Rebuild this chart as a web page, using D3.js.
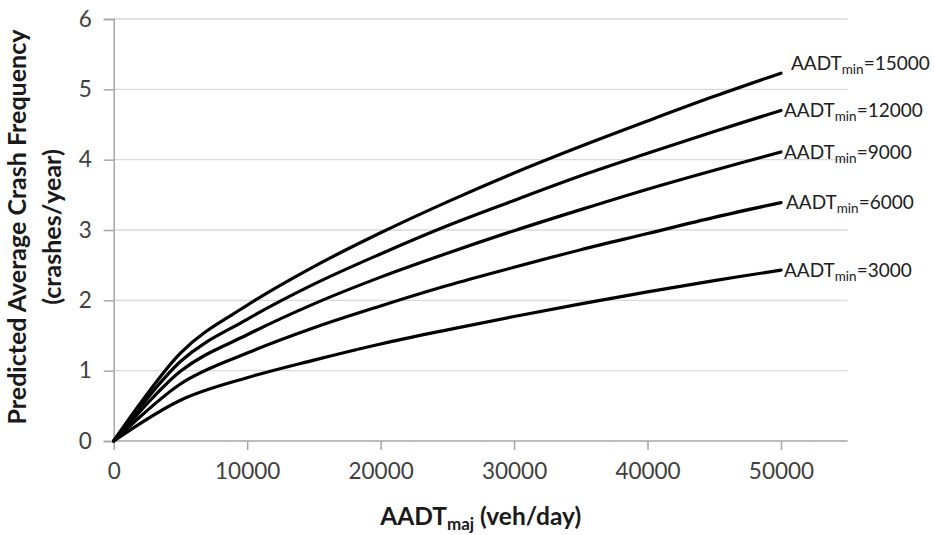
<!DOCTYPE html>
<html>
<head>
<meta charset="utf-8">
<script src="https://cdn.jsdelivr.net/npm/d3@7"></script>
<style>
  html, body { margin: 0; padding: 0; background: #ffffff; }
  svg { display: block; }
</style>
</head>
<body>
<svg id="chart" width="935" height="535"></svg>
<script>
// ---- data ----
const aadtMaj = [0, 5000, 10000, 15000, 20000, 25000, 30000, 35000, 40000, 45000, 50000];
const minorLabels = ["15000", "12000", "9000", "6000", "3000"];
const crashes15000 = [0, 1.25, 1.93, 2.48, 2.96, 3.40, 3.81, 4.19, 4.55, 4.90, 5.23];
const crashes12000 = [0, 1.13, 1.73, 2.23, 2.66, 3.06, 3.42, 3.77, 4.09, 4.40, 4.70];
const crashes9000  = [0, 0.99, 1.51, 1.95, 2.33, 2.67, 2.99, 3.29, 3.58, 3.85, 4.11];
const crashes6000  = [0, 0.81, 1.25, 1.61, 1.92, 2.21, 2.47, 2.72, 2.95, 3.18, 3.39];
const crashes3000  = [0, 0.58, 0.90, 1.15, 1.38, 1.58, 1.77, 1.95, 2.12, 2.28, 2.43];
const xTicks = [0, 10000, 20000, 30000, 40000, 50000];
const yTicks = [0, 1, 2, 3, 4, 5, 6];

const seriesList = [
  { label: minorLabels[0], values: crashes15000 },
  { label: minorLabels[1], values: crashes12000 },
  { label: minorLabels[2], values: crashes9000 },
  { label: minorLabels[3], values: crashes6000 },
  { label: minorLabels[4], values: crashes3000 }
];

// ---- layout ----
const svg = d3.select("#chart");
const plotLeft = 113.7, plotRight = 847.7, plotTop = 19, plotBottom = 441;
const x = d3.scaleLinear().domain([0, 55000]).range([plotLeft, plotRight]);
const y = d3.scaleLinear().domain([0, 6]).range([plotBottom, plotTop]);

const font = "Lato, 'Open Sans', sans-serif";
const gridColor = "#d9d9d9";
const axisColor = "#a6a6a6";
const textColor = "#404040";

// horizontal gridlines
svg.append("g")
  .selectAll("line")
  .data(yTicks.filter(d => d > 0))
  .join("line")
  .attr("x1", plotLeft).attr("x2", plotRight)
  .attr("y1", d => y(d)).attr("y2", d => y(d))
  .attr("stroke", gridColor).attr("stroke-width", 1.3);

// y axis
const yAxis = d3.axisLeft(y).tickValues(yTicks).tickSize(10).tickPadding(12).tickFormat(d3.format("d"));
const gy = svg.append("g").attr("transform", `translate(${plotLeft},0)`).call(yAxis);
gy.select(".domain").attr("stroke", axisColor).attr("stroke-width", 1.5);
gy.selectAll(".tick line").attr("stroke", axisColor).attr("stroke-width", 1.5);
gy.selectAll(".tick text").attr("font-family", font).attr("font-size", 22.5).attr("fill", textColor);

// x axis
const xAxis = d3.axisBottom(x).tickValues(xTicks).tickSize(9).tickPadding(13).tickFormat(d3.format("d"));
const gx = svg.append("g").attr("transform", `translate(0,${plotBottom})`).call(xAxis);
gx.select(".domain").attr("stroke", axisColor).attr("stroke-width", 1.5)
  .attr("d", `M${plotLeft},0H${plotRight}`);
gx.selectAll(".tick line").attr("stroke", axisColor).attr("stroke-width", 1.5);
gx.selectAll(".tick text").attr("font-family", font).attr("font-size", 22.5).attr("fill", textColor);

// curves
const line = d3.line()
  .x((d, i) => x(aadtMaj[i]))
  .y(d => y(d))
  .curve(d3.curveCardinal.tension(0));

svg.append("g")
  .selectAll("path")
  .data(seriesList)
  .join("path")
  .attr("d", s => line(s.values))
  .attr("fill", "none")
  .attr("stroke", "#000")
  .attr("stroke-width", 3.2)
  .attr("stroke-linejoin", "round")
  .attr("stroke-linecap", "round");

// series labels
const labelOffsets = [10, 3, 3, 5, 3];
const labelG = svg.append("g");
seriesList.forEach((s, i) => {
  const last = s.values[s.values.length - 1];
  const t = labelG.append("text")
    .attr("x", x(aadtMaj[aadtMaj.length - 1]) + labelOffsets[i])
    .attr("y", y(last) + (i === 0 ? -10 : 0))
    .attr("dy", "0.35em")
    .attr("font-family", font)
    .attr("font-size", 19)
    .attr("fill", "#202020");
  t.append("tspan").text("AADT");
  t.append("tspan").text("min").attr("font-size", 13.5).attr("dy", 4);
  t.append("tspan").text("=" + s.label).attr("dy", -4);
});

// x title
const xt = svg.append("text")
  .attr("x", (plotLeft + plotRight) / 2)
  .attr("y", 525)
  .attr("text-anchor", "middle")
  .attr("font-family", font)
  .attr("font-weight", "bold")
  .attr("font-size", 24.5)
  .attr("fill", "#1a1a1a");
xt.append("tspan").text("AADT");
xt.append("tspan").text("maj").attr("font-size", 17).attr("dy", 5);
xt.append("tspan").text(" (veh/day)").attr("dy", -5);

// y title
const yt = svg.append("text")
  .attr("transform", `translate(0,${(plotTop + plotBottom) / 2 - 3}) rotate(-90)`)
  .attr("text-anchor", "middle")
  .attr("font-family", font)
  .attr("font-weight", "bold")
  .attr("font-size", 25)
  .attr("fill", "#1a1a1a");
yt.append("tspan").attr("x", 0).attr("y", 26).text("Predicted Average Crash Frequency");
yt.append("tspan").attr("x", 0).attr("y", 61).text("(crashes/year)");
</script>
</body>
</html>
